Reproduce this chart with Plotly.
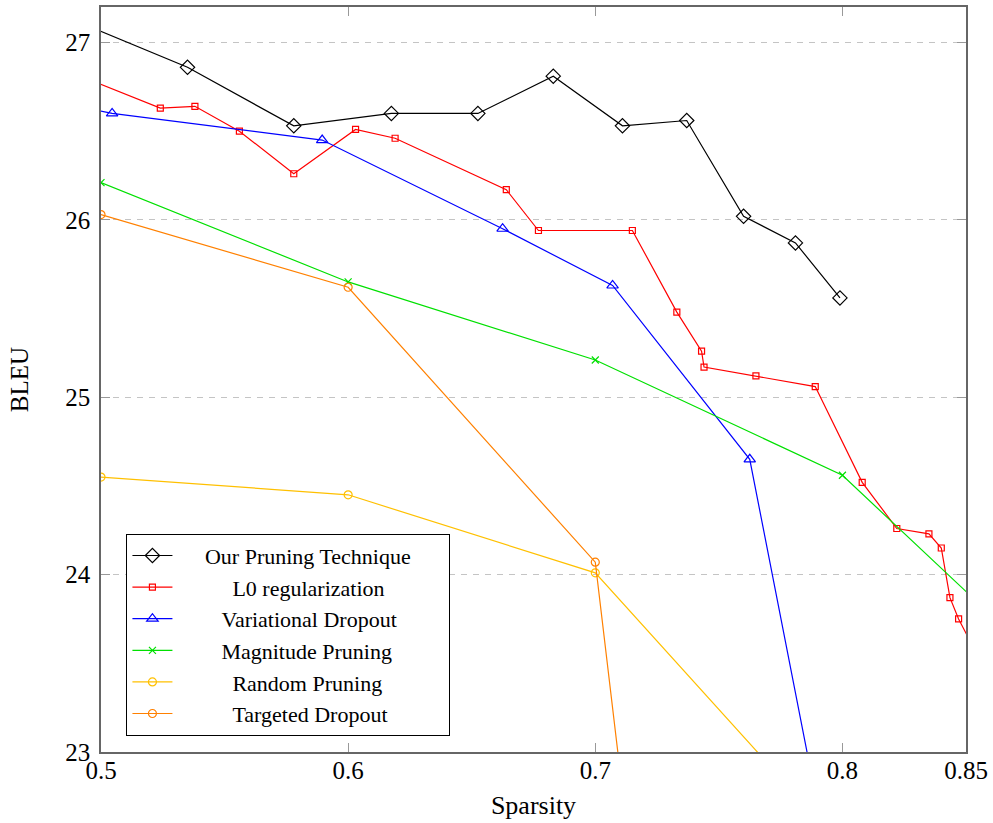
import plotly.graph_objects as go

# ---------------- data ----------------
ours_x = [0.49, 0.535, 0.578, 0.6175, 0.6525, 0.683, 0.711, 0.737, 0.760, 0.781, 0.799]
ours_y = [27.12, 26.86, 26.53, 26.60, 26.60, 26.81, 26.53, 26.56, 26.02, 25.87, 25.56]

l0_x = [0.49, 0.524, 0.538, 0.556, 0.578, 0.603, 0.619, 0.664, 0.677, 0.715, 0.733,
        0.743, 0.744, 0.765, 0.789, 0.808, 0.822, 0.835, 0.840, 0.8435, 0.847, 0.86]
l0_y = [26.82, 26.63, 26.64, 26.50, 26.26, 26.51, 26.46, 26.17, 25.94, 25.94, 25.48,
        25.26, 25.17, 25.12, 25.06, 24.52, 24.26, 24.23, 24.15, 23.87, 23.75, 23.40]

vd_x = [0.49, 0.5045, 0.5895, 0.6625, 0.707, 0.7625, 0.80]
vd_y = [26.64, 26.60, 26.45, 25.95, 25.63, 24.65, 21.98]

mag_x = [0.5, 0.6, 0.7, 0.8, 0.9]
mag_y = [26.21, 25.65, 25.21, 24.56, 23.25]

rand_x = [0.5, 0.6, 0.7, 0.8]
rand_y = [24.55, 24.45, 24.01, 22.47]

tgt_x = [0.5, 0.6, 0.7, 0.75]
tgt_y = [26.03, 25.62, 24.07, 18.2]

x_ticks = [0.5, 0.6, 0.7, 0.8, 0.85]
x_ticktext = ["0.5", "0.6", "0.7", "0.8", "0.85"]
y_ticks = [23, 24, 25, 26, 27]
y_ticktext = ["23", "24", "25", "26", "27"]

names = ["Our Pruning Technique", "L0 regularization", "Variational Dropout",
         "Magnitude Pruning", "Random Pruning", "Targeted Dropout"]

# --------------- figure ---------------
FONT = "Liberation Serif"
NB = "\u00a0"
lead = [5, 10, 8, 8, 10, 10]
trail = 6

def label(i):
    return NB * lead[i] + names[i] + NB * (trail - (lead[i] - lead[0]))

series = [
    (ours_x, ours_y, "black", "diamond-open", 11),
    (l0_x, l0_y, "#ff0000", "square-open", 6),
    (vd_x, vd_y, "#0000ff", "triangle-up-open", 10),
    (mag_x, mag_y, "#00e000", "x-thin-open", 7),
    (rand_x, rand_y, "#ffc000", "circle-open", 8),
    (tgt_x, tgt_y, "#ff8000", "circle-open", 8),
]

fig = go.Figure()
for i, (xs, ys, col, sym, sz) in enumerate(series):
    fig.add_trace(go.Scatter(
        x=xs, y=ys, mode="lines+markers", name=label(i),
        line=dict(color=col, width=1.2),
        marker=dict(symbol=sym, size=sz, color=col, line=dict(color=col, width=1.2)),
        cliponaxis=True,
    ))

fig.update_layout(
    width=993, height=823,
    margin=dict(l=101, r=24, t=5, b=71),
    paper_bgcolor="white", plot_bgcolor="white",
    font=dict(family=FONT, size=25, color="black"),
    legend=dict(
        x=0.0294, y=0.293, xanchor="left", yanchor="top",
        bgcolor="white", bordercolor="black", borderwidth=1,
        font=dict(family=FONT, size=22, color="black"),
        tracegroupgap=0, itemwidth=40,
    ),
    xaxis=dict(
        range=[0.5, 0.85], tickvals=x_ticks, ticktext=x_ticktext,
        showgrid=False, zeroline=False,
        showline=True, linecolor="#666", linewidth=1.5, mirror="ticks",
        ticks="inside", ticklen=9, tickcolor="#999", tickwidth=1,
        ticklabelstandoff=-5,
        title=dict(text="Sparsity", font=dict(family=FONT, size=26), standoff=13),
        tickfont=dict(family=FONT, size=25),
    ),
    yaxis=dict(
        range=[23, 27.2], tickvals=y_ticks, ticktext=y_ticktext,
        showgrid=True, gridcolor="#c4c4c4", griddash="6px,6px", gridwidth=1,
        zeroline=False,
        showline=True, linecolor="#666", linewidth=1.5, mirror="ticks",
        ticks="inside", ticklen=9, tickcolor="#999", tickwidth=1,
        ticklabelstandoff=4,
        title=dict(text="BLEU", font=dict(family=FONT, size=25), standoff=30),
        tickfont=dict(family=FONT, size=25),
    ),
    showlegend=True,
)

fig.write_html("out.html")
